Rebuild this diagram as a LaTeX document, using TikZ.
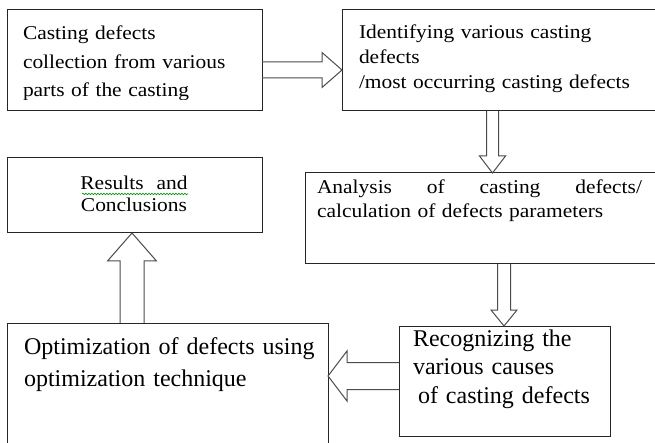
\documentclass[tikz,border=0pt]{standalone}
\usepackage{fontspec}
\setmainfont[FakeStretch=1.1]{Liberation Serif}
\newfontfamily\cfont{Liberation Serif}
\usetikzlibrary{calc,decorations.pathmorphing}
\newcommand\boxnode[5]{\node[box, anchor=north west, minimum width=#4pt, minimum height=#5pt] (#1) at (#2,#3) {};}
% horizontal block arrow: start, end, shaft half, head half, head length (signed)
\newcommand\harrow[5]{\draw[barrow] let \p1=(#1), \p2=(#2) in
  ({\x1},{\y1+#3}) -- ({\x2-(#5)},{\y1+#3}) -- ({\x2-(#5)},{\y1+#4}) -- ({\x2},{\y1}) --
  ({\x2-(#5)},{\y1-#4}) -- ({\x2-(#5)},{\y1-#3}) -- ({\x1},{\y1-#3});}
% vertical block arrow
\newcommand\varrow[5]{\draw[barrow] let \p1=(#1), \p2=(#2) in
  ({\x1+#3},{\y1}) -- ({\x1+#3},{\y2+(#5)}) -- ({\x1+#4},{\y2+(#5)}) -- ({\x1},{\y2}) --
  ({\x1-#4},{\y2+(#5)}) -- ({\x1-#3},{\y2+(#5)}) -- ({\x1-#3},{\y1});}
\begin{document}
\begin{tikzpicture}[x=1pt,y=-1pt,
  box/.style={draw=black!85, line width=1pt, inner sep=0pt, outer sep=0pt},
  barrow/.style={draw=black!70, line width=1pt, line join=miter},
  txt/.style={inner sep=0pt, outer sep=0pt, align=left, text=black},
  mainsz/.style={font=\fontsize{19.5}{#1}\selectfont},
  camsz/.style={font=\cfont\fontsize{24}{#1}\selectfont}]
\useasboundingbox (0,0) rectangle (655,443);
\fill[white] (0,0) rectangle (655,443);
\begin{scope}
\clip (0,0) rectangle (655,443);
\boxnode{b1}{7}{10}{255}{101}
\boxnode{b2}{342}{10}{320}{101}
\boxnode{res}{7}{158}{255}{75}
\boxnode{an}{305}{173}{360}{91}
\boxnode{rc}{399}{326}{211}{110}
\boxnode{op}{7}{323}{321}{140}

\harrow{[yshift=-9.5pt]b1.east}{b2.west}{8pt}{17.5pt}{20pt}
\varrow{[xshift=-9.5pt]b2.south}{an.north}{6pt}{13pt}{17pt}
\varrow{[xshift=19pt]an.south}{rc.north}{6.5pt}{13pt}{16pt}
\harrow{[yshift=5pt]rc.west}{op.east}{13.5pt}{25pt}{-19pt}
\varrow{[xshift=-35.5pt]op.north}{res.south}{12pt}{24.5pt}{-28pt}

\begin{scope}
\clip (0,0) rectangle (262,100);
\node[txt, mainsz=28.5, text width=240pt, anchor=base west] (t1) at (23,40)
  {Casting defects\\collection from various\\parts of the casting};
\end{scope}
\node[txt, mainsz=25, text width=300pt, anchor=base west] (t2) at (359,39)
  {Identifying various casting\\defects\\/most occurring casting defects};
\node[txt, mainsz=22, text width=200pt, align=center, anchor=base] (tres) at (134,190)
  {Results\ \ and\\Conclusions};
\draw[green!60!black, line width=0.6pt, decorate,
  decoration={snake, amplitude=0.8pt, segment length=3pt}] (82,194) -- (188,194);
\node[txt, mainsz=24, text width=340pt, anchor=base west] (tan) at (317,194)
  {\makebox[325pt][l]{Analysis\hfill of\hfill casting\hfill defects/}\\calculation of defects parameters};
\node[txt, camsz=32, text width=310pt, anchor=base west] (top) at (24,354)
  {Optimization of defects using\\optimization technique};
\node[txt, camsz=28.5, text width=200pt, anchor=base west] (trc) at (413,346)
  {Recognizing the\\various causes\\\hspace*{5pt}of casting defects};
\end{scope}
\end{tikzpicture}
\end{document}
